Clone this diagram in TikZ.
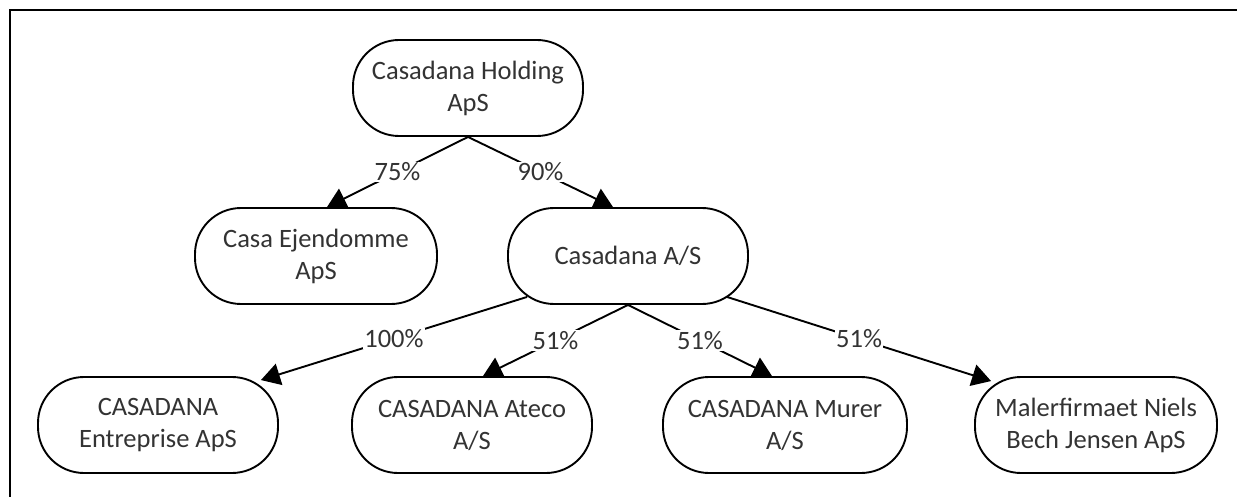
\documentclass[tikz,border=0pt]{standalone}
\usepackage{fontspec}
\setmainfont{Carlito}
\usetikzlibrary{arrows.meta,calc}
\definecolor{txt}{HTML}{333333}
\tikzset{
  org/.style={draw=black, line width=1.9pt, rounded corners=46pt, align=center,
    minimum height=96pt, inner sep=0pt, text=txt,
    font=\fontsize{26.5}{32}\selectfont},
  link/.style={line width=1.9pt, -{Triangle[length=19pt,width=22pt]}},
  pct/.style={midway, fill=white, inner sep=1pt, text=txt, font=\fontsize{26.5}{32}\selectfont}
}
\begin{document}
\begin{tikzpicture}[x=1pt,y=-1pt]
\useasboundingbox (0,0) rectangle (1237,497);
\fill[white] (0,0) rectangle (1237,497);
\draw[line width=2.5pt] (10,497) -- (10,10) -- (1237,10);

\node[org, minimum width=230pt] (h) at (468,88) {Casadana Holding\\ApS};
\node[org, minimum width=242pt] (ce) at (316,256) {Casa Ejendomme\\ApS};
\node[org, minimum width=240pt] (as) at (628,256) {Casadana A/S};
\node[org, minimum width=240pt] (ent) at (158,425) {CASADANA\\Entreprise ApS};
\node[org, minimum width=240pt] (ate) at (472,425) {CASADANA Ateco\\A/S};
\node[org, minimum width=244pt] (mur) at (785,425) {CASADANA Murer\\A/S};
\node[org, minimum width=242pt] (mal) at (1096,425) {Malerfirmaet Niels\\Bech Jensen ApS};

\coordinate (asL) at ($(as.south)+(-101,-8)$);
\coordinate (asR) at ($(as.south)+(99,-8)$);
\coordinate (tce) at ($(ce.north)+(11,0)$);
\coordinate (tas) at ($(as.north)+(-15,0)$);
\coordinate (tent) at ($(ent.north east)+(-18,4)$);
\coordinate (tate) at ($(ate.north)+(11,0)$);
\coordinate (tmur) at ($(mur.north)+(-13,0)$);
\coordinate (tmal) at ($(mal.north west)+(17,5)$);

\draw[link] (h.south) -- node[pct] {75\%} (tce);
\draw[link] (h.south) -- node[pct] {90\%} (tas);
\draw[link] (asL) -- node[pct] {100\%} (tent);
\draw[link] (as.south) -- node[pct] {51\%} (tate);
\draw[link] (as.south) -- node[pct] {51\%} (tmur);
\draw[link] (asR) -- node[pct] {51\%} (tmal);
\end{tikzpicture}
\end{document}
